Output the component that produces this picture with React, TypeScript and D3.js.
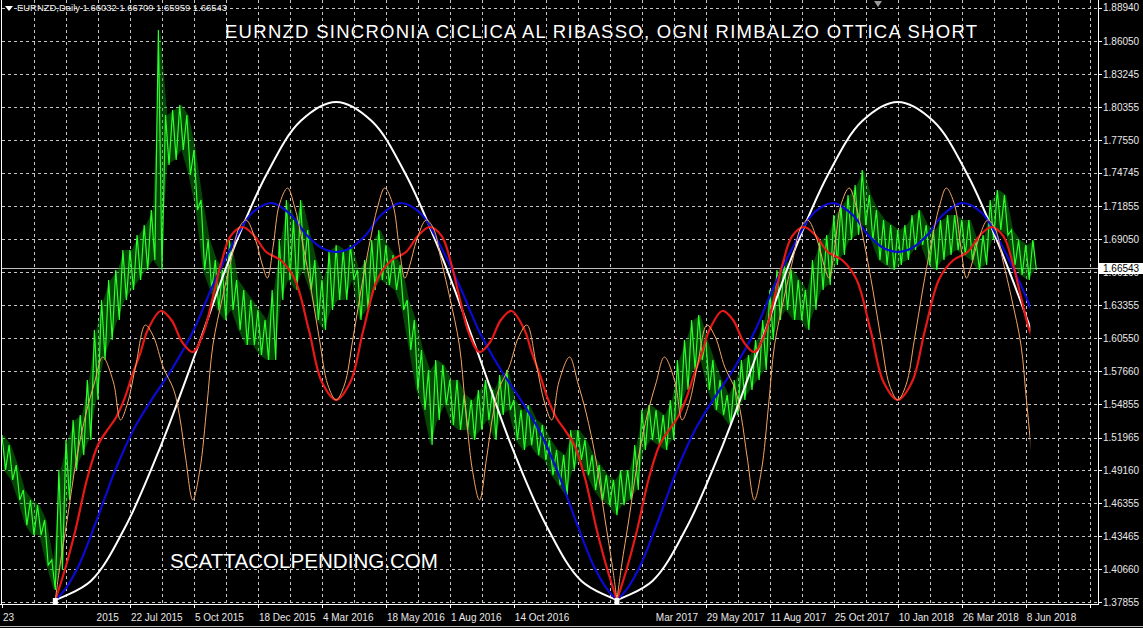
import React, { useEffect, useRef } from "react";
import * as d3 from "d3";

// right price axis labels
const priceTicks = [
  1.8894, 1.8605, 1.83245, 1.80355, 1.7755, 1.74745, 1.71855, 1.6905, 1.6616, 1.63355,
  1.6055, 1.5766, 1.54855, 1.51965, 1.4916, 1.46355, 1.43465, 1.4066, 1.37855,
];
const lastPrice = 1.66543;

// bottom date labels: [bar index where text starts, text]
const timeLabels: [number, string][] = [
  [0, "23"], [79, "2015"], [108, "22 Jul 2015"], [162, "5 Oct 2015"], [216, "18 Dec 2015"],
  [270, "4 Mar 2016"], [324, "18 May 2016"], [378, "1 Aug 2016"], [432, "14 Oct 2016"],
  [551, "Mar 2017"], [594, "29 May 2017"], [648, "11 Aug 2017"], [702, "25 Oct 2017"],
  [756, "10 Jan 2018"], [810, "26 Mar 2018"], [864, "8 Jun 2018"],
];

// EURNZD daily, sampled every 6 bars: high / low of each group
const highs = [
  1.5218, 1.5132, 1.496, 1.4746, 1.466, 1.4616, 1.4488, 1.4144, 1.4918, 1.5176,
  1.5348, 1.539, 1.5692, 1.6121, 1.6379, 1.6551, 1.6637, 1.6809, 1.6809, 1.6938,
  1.7024, 1.7153, 1.8701, 1.797, 1.8013, 1.8056, 1.797, 1.7669, 1.7239, 1.6895,
  1.6723, 1.6637, 1.6895, 1.6551, 1.6465, 1.6379, 1.6293, 1.6207, 1.6465, 1.6895,
  1.7239, 1.7067, 1.7239, 1.6981, 1.6723, 1.6551, 1.6809, 1.6852, 1.6809, 1.6852,
  1.6637, 1.6723, 1.6895, 1.6981, 1.6852, 1.6766, 1.668, 1.6379, 1.6207, 1.5949,
  1.5778, 1.5864, 1.582, 1.5692, 1.5692, 1.5562, 1.552, 1.5606, 1.5692, 1.5606,
  1.5734, 1.5778, 1.552, 1.5434, 1.5476, 1.5348, 1.5304, 1.5176, 1.509, 1.5046,
  1.5262, 1.5262, 1.5176, 1.5046, 1.496, 1.4874, 1.4832, 1.4918, 1.4918, 1.5132,
  1.5434, 1.5476, 1.5434, 1.539, 1.552, 1.5864, 1.6035, 1.6207, 1.625, 1.6035,
  1.5864, 1.5692, 1.5562, 1.5692, 1.5864, 1.5906, 1.6035, 1.6207, 1.6465, 1.6637,
  1.6723, 1.6637, 1.6551, 1.6465, 1.6723, 1.6895, 1.6938, 1.711, 1.7196, 1.7282,
  1.7368, 1.7497, 1.7282, 1.7153, 1.7067, 1.7024, 1.6981, 1.7024, 1.711, 1.7153,
  1.7024, 1.6981, 1.7067, 1.711, 1.711, 1.7067, 1.7067, 1.6895, 1.6938, 1.7239,
  1.7325, 1.7282, 1.6981, 1.6895, 1.6852, 1.6895,
];
const lows = [
  1.4918, 1.4832, 1.466, 1.4444, 1.4358, 1.4358, 1.41, 1.3886, 1.4058, 1.466,
  1.4918, 1.5046, 1.5176, 1.552, 1.5864, 1.6035, 1.6207, 1.6379, 1.6465, 1.6551,
  1.6637, 1.6723, 1.6637, 1.754, 1.7583, 1.7669, 1.7454, 1.7153, 1.6637, 1.6465,
  1.6293, 1.6207, 1.6293, 1.6121, 1.5992, 1.5992, 1.5906, 1.5864, 1.5864, 1.6379,
  1.6551, 1.6465, 1.6637, 1.6465, 1.6207, 1.6121, 1.6293, 1.6379, 1.6379, 1.6551,
  1.6207, 1.6293, 1.6465, 1.6551, 1.6508, 1.6465, 1.6293, 1.5949, 1.5606, 1.5434,
  1.5132, 1.5348, 1.5476, 1.5304, 1.5262, 1.5262, 1.5176, 1.5262, 1.5348, 1.5176,
  1.539, 1.5434, 1.5176, 1.509, 1.5132, 1.5046, 1.5004, 1.4874, 1.4788, 1.4702,
  1.4918, 1.5004, 1.4874, 1.4746, 1.466, 1.4616, 1.453, 1.4616, 1.466, 1.4746,
  1.509, 1.5176, 1.5132, 1.509, 1.5176, 1.5434, 1.5606, 1.5778, 1.5864, 1.5606,
  1.5434, 1.539, 1.5304, 1.539, 1.552, 1.5606, 1.5692, 1.5778, 1.6035, 1.6207,
  1.6293, 1.6207, 1.6207, 1.6121, 1.6293, 1.6465, 1.6508, 1.668, 1.6766, 1.6895,
  1.6938, 1.7024, 1.6895, 1.6723, 1.668, 1.6637, 1.668, 1.6723, 1.6809, 1.6852,
  1.668, 1.6637, 1.6723, 1.6766, 1.6809, 1.6766, 1.6723, 1.6637, 1.668, 1.6895,
  1.6981, 1.6938, 1.668, 1.6594, 1.6551, 1.6637,
];

// cycle indicator, one cycle: [bars from cycle low, price]
const cycleStarts = [45, 519];
const whiteCycle: [number, number][] = [
  [0, 1.38], [30, 1.3964], [59, 1.4428], [89, 1.5124], [119, 1.5941], [148, 1.6758],
  [178, 1.7454], [207, 1.7918], [237, 1.8082], [267, 1.7918], [296, 1.7454],
  [326, 1.6758], [356, 1.5941], [385, 1.5124], [415, 1.4428], [444, 1.3964], [474, 1.38],
];
const blueCycle: [number, number][] = [
  [0, 1.38], [9, 1.3903], [20, 1.4101], [35, 1.4488], [50, 1.4901], [65, 1.5245],
  [80, 1.5502], [99, 1.5795], [116, 1.6104], [132, 1.6483], [149, 1.6844], [166, 1.7127],
  [183, 1.7213], [199, 1.711], [212, 1.6938], [225, 1.6826], [237, 1.6792], [249, 1.6826],
  [262, 1.6938], [275, 1.711], [291, 1.7213], [308, 1.7127], [325, 1.6844], [342, 1.6483],
  [358, 1.6104], [375, 1.5795], [394, 1.5502], [409, 1.5245], [424, 1.4901], [439, 1.4488],
  [454, 1.4101], [465, 1.3903], [474, 1.38],
];
const redCycle: [number, number][] = [
  [0, 1.38], [8, 1.4058], [17, 1.4402], [27, 1.4849], [36, 1.5133], [44, 1.5262],
  [51, 1.5365], [58, 1.552], [65, 1.5735], [72, 1.5932], [78, 1.6121], [89, 1.6285],
  [98, 1.6207], [107, 1.6018], [116, 1.5932], [125, 1.6096], [133, 1.6405], [140, 1.6697],
  [148, 1.693], [158, 1.7007], [168, 1.693], [178, 1.6792], [190, 1.6723], [202, 1.656],
  [214, 1.6121], [225, 1.5674], [237, 1.552],
  [249, 1.5674], [260, 1.6121], [272, 1.656], [284, 1.6723], [296, 1.6792], [306, 1.693],
  [316, 1.7007], [326, 1.693], [334, 1.6697], [341, 1.6405], [349, 1.6096], [358, 1.5932],
  [367, 1.6018], [376, 1.6207], [385, 1.6285], [396, 1.6121], [402, 1.5932], [409, 1.5735],
  [416, 1.552], [423, 1.5365], [430, 1.5262], [438, 1.5133], [447, 1.4849], [457, 1.4402],
  [466, 1.4058], [474, 1.38],
];
const orangeCycle: [number, number][] = [
  [0, 1.38], [4, 1.4101], [10, 1.4488], [18, 1.5021], [26, 1.5408], [33, 1.5666],
  [40, 1.5889], [49, 1.5674], [55, 1.5348], [61, 1.5494], [68, 1.5821], [76, 1.6164],
  [83, 1.6061], [91, 1.5803], [100, 1.5606], [105, 1.5373], [110, 1.5021], [116, 1.466],
  [122, 1.4918], [128, 1.5477], [133, 1.5992], [141, 1.6397], [148, 1.6706], [155, 1.6998],
  [161, 1.7067], [169, 1.6895], [175, 1.6672], [179, 1.6568], [184, 1.6852], [189, 1.7196],
  [196, 1.7342], [202, 1.7179], [209, 1.6852], [216, 1.6465], [223, 1.6035], [230, 1.5649],
  [237, 1.552],
  [244, 1.5649], [251, 1.6035], [258, 1.6465], [265, 1.6852], [272, 1.7179], [278, 1.7342],
  [285, 1.7196], [290, 1.6852], [295, 1.6568], [299, 1.6672], [305, 1.6895], [313, 1.7067],
  [319, 1.6998], [326, 1.6706], [333, 1.6397], [341, 1.5992], [346, 1.5477], [352, 1.4918],
  [358, 1.466], [364, 1.5021], [369, 1.5373], [374, 1.5606], [383, 1.5803], [391, 1.6061],
  [398, 1.6164], [406, 1.5821], [413, 1.5494], [419, 1.5348], [425, 1.5674], [434, 1.5889],
  [441, 1.5666], [448, 1.5408], [456, 1.5021], [464, 1.4488], [470, 1.4101], [474, 1.38],
];

const W = 1143;
const H = 628;
const LEFT = 2;
const RIGHT = 1098;
const AXIS_Y = 604;
const BARS = 925;
const LAST_BAR = 867;
const STEP = 6;
const FONT = "'Liberation Sans', Arial, sans-serif";

const Chart = () => {
  const svgRef = useRef<SVGSVGElement>(null);

  useEffect(() => {
    const svg = d3.select(svgRef.current);
    svg.selectAll("*").remove();

    const x = d3.scaleLinear().domain([0, BARS]).range([LEFT, RIGHT]);
    const y = d3.scaleLinear().domain([1.37855, 1.8894]).range([601.7, 7.5]);
    const px = (v: number) => Math.round(v) + 0.5;

    svg.append("rect").attr("width", W).attr("height", H).attr("fill", "#000");

    svg.append("defs").append("clipPath").attr("id", "plotclip")
      .append("rect").attr("x", LEFT).attr("y", 0)
      .attr("width", x(LAST_BAR) - LEFT + 1).attr("height", AXIS_Y);

    // grid
    const grid = svg.append("g").attr("stroke", "#c4c4c4").attr("stroke-dasharray", "3,3").attr("stroke-width", 1);
    priceTicks.forEach(t => {
      grid.append("line").attr("x1", LEFT).attr("x2", RIGHT).attr("y1", px(y(t))).attr("y2", px(y(t)));
    });
    d3.range(27, BARS, 27).forEach(b => {
      grid.append("line").attr("x1", px(x(b))).attr("x2", px(x(b))).attr("y1", 0).attr("y2", AXIS_Y);
    });

    // bid line
    svg.append("line").attr("x1", LEFT).attr("x2", RIGHT)
      .attr("y1", px(y(lastPrice))).attr("y2", px(y(lastPrice)))
      .attr("stroke", "#c0c0c0").attr("stroke-width", 1);

    // price bars: faint high/low band + zigzag texture
    const band = d3.area<number>()
      .x((_, i) => x(i * STEP + STEP / 4))
      .y0((_, i) => y(lows[i]))
      .y1(h => y(h));
    svg.append("path").datum(highs).attr("d", band).attr("fill", "#0c9a0c").attr("opacity", 0.45);

    const pricePts: [number, number][] = [];
    highs.forEach((h, i) => {
      pricePts.push([i * STEP, h]);
      pricePts.push([i * STEP + STEP / 2, lows[i]]);
    });
    const line = d3.line<[number, number]>().x(d => x(d[0])).y(d => y(d[1]));
    svg.append("path").datum(pricePts).attr("d", line)
      .attr("fill", "none").attr("stroke", "#2bff2b").attr("stroke-width", 1.2);

    // cycle curves
    const curve = d3.line<[number, number]>().x(d => x(d[0])).y(d => y(d[1]))
      .curve(d3.curveCatmullRom.alpha(0.5));
    const cg = svg.append("g").attr("clip-path", "url(#plotclip)");
    const series: [typeof whiteCycle, string, number][] = [
      [whiteCycle, "#ffffff", 2],
      [blueCycle, "#0a0ad2", 2.2],
      [redCycle, "#e81818", 2.2],
      [orangeCycle, "#f2a463", 1],
    ];
    series.forEach(([pts, color, w]) => {
      cycleStarts.forEach(c => {
        cg.append("path").datum(pts.map(([o, p]) => [c + o, p] as [number, number]))
          .attr("d", curve).attr("fill", "none").attr("stroke", color).attr("stroke-width", w);
      });
    });

    // frame
    svg.append("line").attr("x1", 0).attr("x2", RIGHT + 1).attr("y1", AXIS_Y + 0.5).attr("y2", AXIS_Y + 0.5).attr("stroke", "#fff");
    svg.append("line").attr("x1", RIGHT + 0.5).attr("x2", RIGHT + 0.5).attr("y1", 0).attr("y2", AXIS_Y).attr("stroke", "#fff");
    svg.append("line").attr("x1", 1.5).attr("x2", 1.5).attr("y1", 0).attr("y2", AXIS_Y).attr("stroke", "#fff");
    svg.append("line").attr("x1", 0).attr("x2", W).attr("y1", 626.5).attr("y2", 626.5).attr("stroke", "#bdbdbd");

    // cycle low markers
    cycleStarts.forEach(c => {
      svg.append("rect").attr("x", x(c) - 2.5).attr("y", 598).attr("width", 5).attr("height", 6).attr("fill", "#fff");
    });

    // right axis
    priceTicks.forEach(t => {
      svg.append("line").attr("x1", RIGHT).attr("x2", RIGHT + 4)
        .attr("y1", px(y(t))).attr("y2", px(y(t))).attr("stroke", "#fff");
      svg.append("text").attr("x", RIGHT + 5).attr("y", y(t) + 3.8)
        .attr("fill", "#e8e8e8").attr("font-family", FONT).attr("font-size", 10)
        .text(t.toFixed(5));
    });
    svg.append("rect").attr("x", RIGHT + 1).attr("y", 263).attr("width", 44).attr("height", 11).attr("fill", "#fff");
    svg.append("text").attr("x", RIGHT + 5).attr("y", y(lastPrice) + 3.8)
      .attr("fill", "#000").attr("font-family", FONT).attr("font-size", 10)
      .text(lastPrice.toFixed(5));

    // bottom axis
    d3.range(0, BARS, 54).forEach(b => {
      svg.append("line").attr("x1", px(x(b))).attr("x2", px(x(b)))
        .attr("y1", AXIS_Y).attr("y2", AXIS_Y + 4).attr("stroke", "#fff");
    });
    timeLabels.forEach(([b, t]) => {
      svg.append("text").attr("x", x(b) + 1).attr("y", 621)
        .attr("fill", "#e8e8e8").attr("font-family", FONT).attr("font-size", 10).text(t);
    });

    // header
    svg.append("path").attr("d", "M5,6 L13,6 L9,11 Z").attr("fill", "#fff");
    svg.append("text").attr("x", 17).attr("y", 11).attr("fill", "#f0f0f0")
      .attr("font-family", FONT).attr("font-size", 9)
      .attr("textLength", 210).attr("lengthAdjust", "spacingAndGlyphs")
      .text("EURNZD,Daily  1.66032 1.66709 1.65959 1.66543");
    svg.append("path").attr("d", "M874,1 L882,1 L878,7 Z").attr("fill", "#9a9a9a");

    svg.append("text").attr("x", 225).attr("y", 37.5).attr("fill", "#fff")
      .attr("font-family", FONT).attr("font-size", 18.5)
      .attr("textLength", 752).attr("lengthAdjust", "spacing")
      .text("EURNZD SINCRONIA CICLICA AL RIBASSO, OGNI RIMBALZO OTTICA SHORT");
    svg.append("text").attr("x", 170).attr("y", 568).attr("fill", "#fff")
      .attr("font-family", FONT).attr("font-size", 20.5)
      .attr("textLength", 268).attr("lengthAdjust", "spacingAndGlyphs")
      .text("SCATTACOLPENDING.COM");
  }, []);

  return <svg ref={svgRef} width={W} height={H} style={{ display: "block" }} />;
};

const App = () => (
  <div style={{ position: "absolute", left: 0, top: 0, width: W, height: H, background: "#000" }}>
    <Chart />
  </div>
);

export default App;
